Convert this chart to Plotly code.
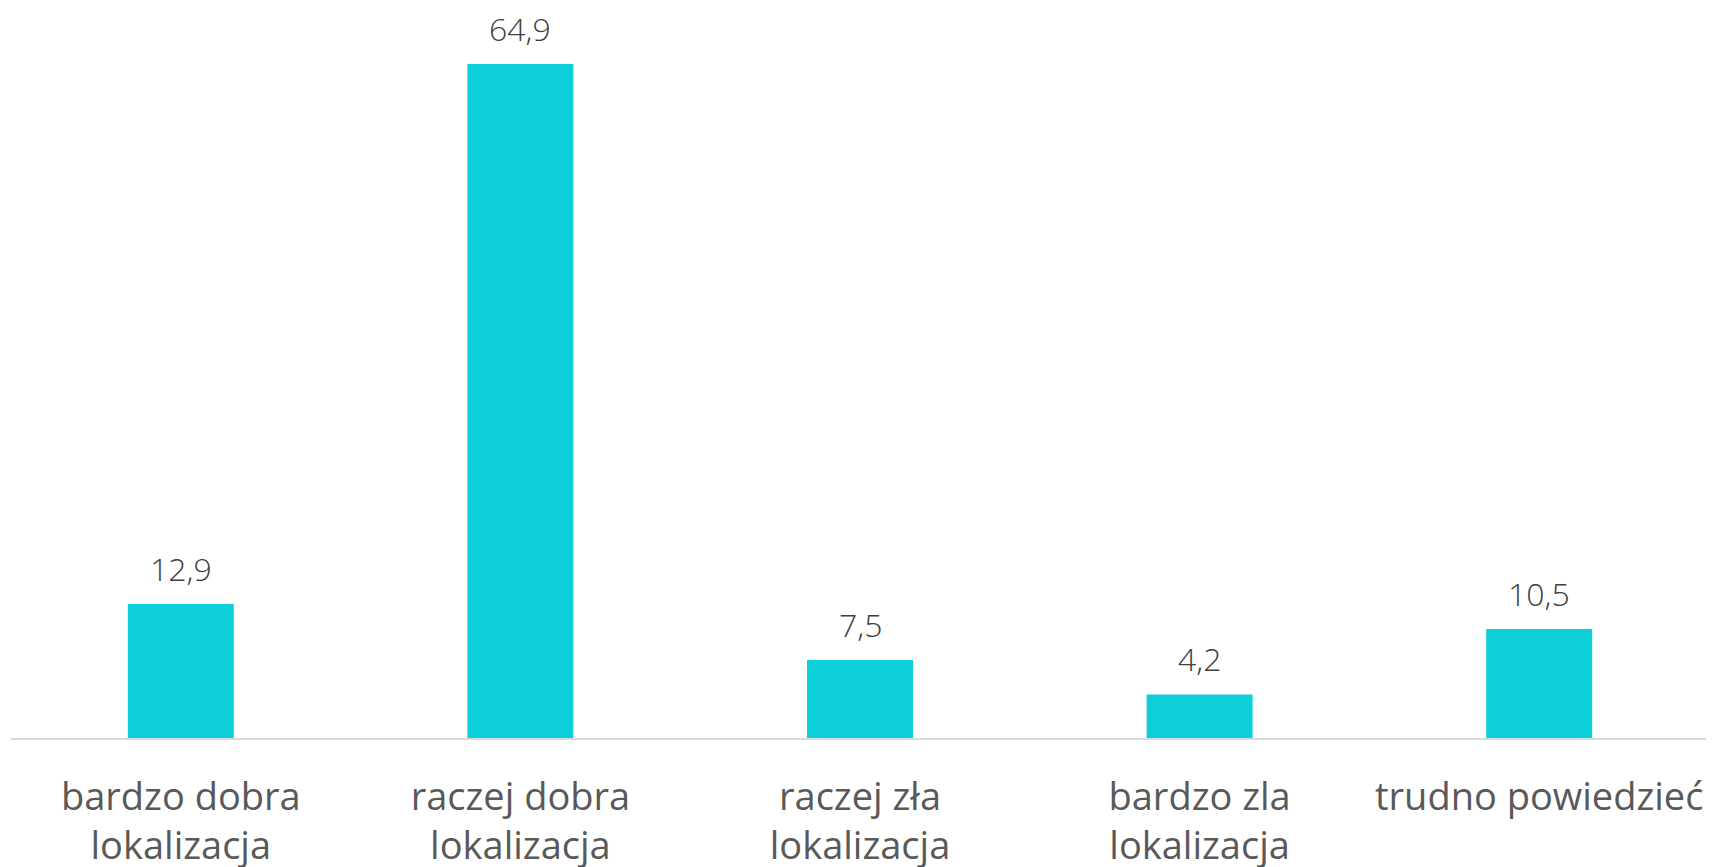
import plotly.graph_objects as go

categories = ["bardzo dobra<br>lokalizacja", "raczej dobra<br>lokalizacja", "raczej zła<br>lokalizacja",
              "bardzo zla<br>lokalizacja", "trudno powiedzieć"]
values = [12.9, 64.9, 7.5, 4.2, 10.5]

fig = go.Figure(go.Bar(
    x=categories, y=values,
    marker=dict(color="#0ccfd8", line=dict(width=0)),
    cliponaxis=False,
))
for c, v in zip(categories, values):
    fig.add_annotation(
        x=c, y=v, text=f"{v:.1f}".replace(".", ","), showarrow=False,
        yanchor="bottom", yshift=12,
        font=dict(family="Open Sans", size=32, color="#404040", weight=300),
    )
fig.update_layout(
    width=1706, height=859,
    margin=dict(l=3, r=5, t=3, b=129),
    plot_bgcolor="white", paper_bgcolor="white",
    bargap=0.688,
    showlegend=False,
    font=dict(family="Open Sans"),
)
fig.update_xaxes(showline=True, linecolor="#d9d9d9", linewidth=2, ticks="",
                 automargin=False, ticklabelstandoff=24,
                 tickfont=dict(family="Open Sans", size=38, color="#595959"))
fig.update_yaxes(range=[0, 70], visible=False, showgrid=False, automargin=False)
fig.write_html("out.html")
